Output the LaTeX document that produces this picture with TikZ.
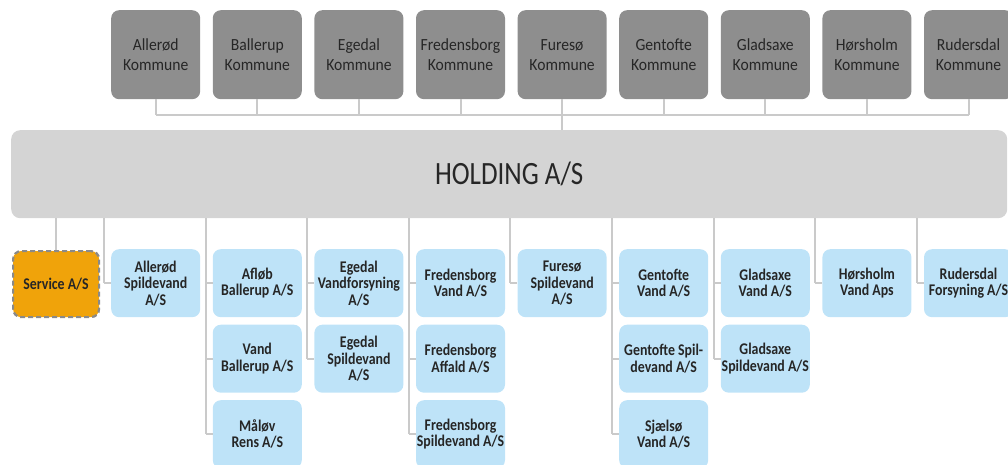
\documentclass[tikz,border=0pt]{standalone}
\usepackage{fontspec}
\setmainfont{Carlito}
\newfontfamily\kommunefont[FakeStretch=0.92]{Carlito}
\newfontfamily\companyfont[FakeStretch=0.85]{Carlito}
\newfontfamily\holdingfont[FakeStretch=0.83]{Carlito}
\definecolor{kommunefill}{HTML}{8E8E8E}
\definecolor{holdingfill}{HTML}{D4D4D4}
\definecolor{companyfill}{HTML}{BEE3F8}
\definecolor{servicefill}{HTML}{F0A30A}
\definecolor{servicedash}{HTML}{8A8A8A}
\definecolor{linegrey}{HTML}{CACACA}
\definecolor{textdark}{HTML}{262626}
\begin{document}
\begin{tikzpicture}[x=1pt,y=-1pt,
  kommune/.style={anchor=north west, fill=kommunefill, rounded corners=8pt,
    minimum width=89pt, minimum height=89pt, inner sep=0pt,
    align=center, text=textdark, font=\kommunefont\fontsize{17}{20}\selectfont},
  company/.style={anchor=north west, fill=companyfill, rounded corners=8pt,
    minimum width=89pt, minimum height=68pt, inner sep=0pt,
    align=center, text=textdark, font=\companyfont\bfseries\fontsize{16.3}{16.5}\selectfont},
  service/.style={company, fill=servicefill, draw=servicedash, line width=2.2pt,
    dash pattern=on 5pt off 3pt, minimum width=86pt, minimum height=66pt},
  holding/.style={anchor=north west, fill=holdingfill, rounded corners=9pt,
    minimum width=996pt, minimum height=88pt, inner sep=0pt,
    text=textdark, font=\holdingfont\fontsize{32.5}{36}\selectfont},
  conn/.style={draw=linegrey, line width=2pt}]
\useasboundingbox (0,0) rectangle (1008,465);
\clip (0,0) rectangle (1008,465);

% owner municipalities
\node[kommune] (k1) at (111,10)   {Allerød\\Kommune};
\node[kommune] (k2) at (212.6,10) {Ballerup\\Kommune};
\node[kommune] (k3) at (314.2,10) {Egedal\\Kommune};
\node[kommune] (k4) at (415.8,10) {Fredensborg\\Kommune};
\node[kommune] (k5) at (517.4,10) {Furesø\\Kommune};
\node[kommune] (k6) at (619,10)   {Gentofte\\Kommune};
\node[kommune] (k7) at (720.6,10) {Gladsaxe\\Kommune};
\node[kommune] (k8) at (822.2,10) {Hørsholm\\Kommune};
\node[kommune] (k9) at (923.8,10) {Rudersdal\\Kommune};

% holding company
\node[holding] (hold) at (11,130) {HOLDING A/S};

% owner bus
\coordinate (bus) at (0,115);
\foreach \k in {k1,k2,k3,k4,k5,k6,k7,k8,k9}
  \draw[conn] (\k.south) -- (\k.south |- bus);
\draw[conn] (k1.south |- bus) -- (k9.south |- bus);
\draw[conn] (k5.south |- bus) -- (k5.south |- hold.north);

% subsidiaries
\node[service] (svc) at (12,250) {Service A/S};

\node[company] (c1a) at (111,249)   {Allerød\\Spildevand\\A/S};
\node[company] (c2a) at (212.6,249) {Afløb\\Ballerup A/S};
\node[company] (c2b) at (212.6,324.5) {Vand\\Ballerup A/S};
\node[company] (c2c) at (212.6,400) {Måløv\\Rens A/S};
\node[company] (c3a) at (314.2,249) {Egedal\\Vandforsyning\\A/S};
\node[company] (c3b) at (314.2,324.5) {Egedal\\Spildevand\\A/S};
\node[company] (c4a) at (415.8,249) {Fredensborg\\Vand A/S};
\node[company] (c4b) at (415.8,324.5) {Fredensborg\\Affald A/S};
\node[company] (c4c) at (415.8,400) {Fredensborg\\Spildevand A/S};
\node[company] (c5a) at (517.4,249) {Furesø\\Spildevand\\A/S};
\node[company] (c6a) at (619,249)   {Gentofte\\Vand A/S};
\node[company] (c6b) at (619,324.5) {Gentofte Spil-\\devand A/S};
\node[company] (c6c) at (619,400)   {Sjælsø\\Vand A/S};
\node[company] (c7a) at (720.6,249) {Gladsaxe\\Vand A/S};
\node[company] (c7b) at (720.6,324.5) {Gladsaxe\\Spildevand A/S};
\node[company] (c8a) at (822.2,249) {Hørsholm\\Vand Aps};
\node[company] (c9a) at (923.8,249) {Rudersdal\\Forsyning A/S};

% trunk lines, one per column, 7pt left of the boxes
\draw[conn] (hold.south -| svc.north) -- (svc.north);
\foreach \n/\last/\boxes in {1/c1a/{c1a},
    2/c2c/{c2a,c2b,c2c},
    3/c3b/{c3a,c3b},
    4/c4c/{c4a,c4b,c4c},
    5/c5a/{c5a},
    6/c6c/{c6a,c6b,c6c},
    7/c7b/{c7a,c7b},
    8/c8a/{c8a},
    9/c9a/{c9a}} {
  \coordinate (trunk\n) at ([xshift=-7pt]\last.west);
  \draw[conn] (hold.south -| trunk\n) -- (trunk\n);
  \foreach \b in \boxes
    \draw[conn] (trunk\n |- \b.west) -- (\b.west);
}
\end{tikzpicture}
\end{document}
